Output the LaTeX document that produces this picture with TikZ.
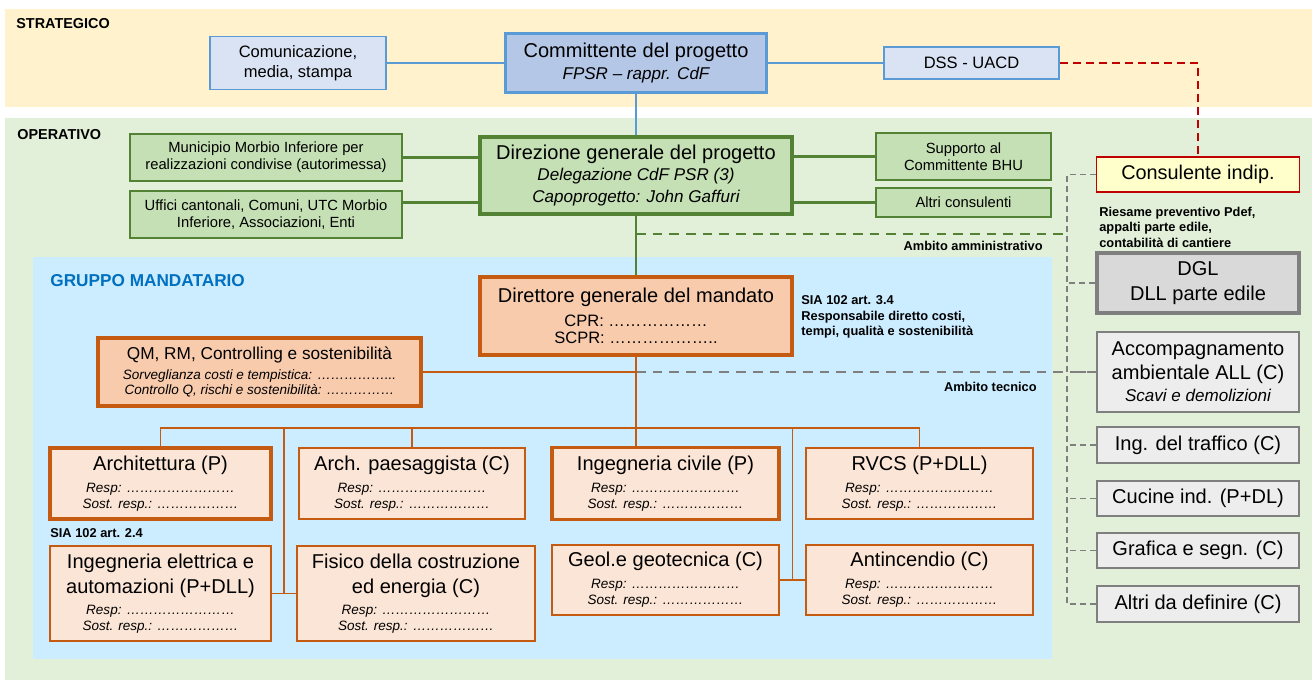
\documentclass[tikz,border=0pt]{standalone}
\usepackage{fontspec}
\setmainfont{Liberation Sans}
\usepackage{tikz}
\usetikzlibrary{calc}

\definecolor{strat}{HTML}{FFF2CC}
\definecolor{oper}{HTML}{E2F0D9}
\definecolor{grp}{HTML}{CCECFF}
\definecolor{grptxt}{HTML}{0070C0}
\definecolor{bluedraw}{HTML}{5B9BD5}
\definecolor{bluefill}{HTML}{DAE3F3}
\definecolor{cmtfill}{HTML}{B4C7E7}
\definecolor{grndraw}{HTML}{548235}
\definecolor{grnfill}{HTML}{C5E0B4}
\definecolor{orgdraw}{HTML}{C55A11}
\definecolor{orgfill}{HTML}{F8CBAD}
\definecolor{unitfill}{HTML}{FBE5D6}
\definecolor{greydraw}{HTML}{7F7F7F}
\definecolor{greyfill}{HTML}{EDEDED}
\definecolor{dglfill}{HTML}{D9D9D9}
\definecolor{consdraw}{HTML}{C00000}
\definecolor{consfill}{HTML}{FFFFCC}

\newcommand\fsz[2]{\fontsize{#1}{#2}\selectfont}
\newcommand\utitle{\fsz{11.4}{13}\upshape}

\tikzset{
  box/.style={rectangle, inner sep=0pt, align=center, line width=1.1pt},
  heavy/.style={line width=2pt},
  blubox/.style={box, draw=bluedraw, fill=bluefill, font=\fsz{9.4}{11.4}},
  grnbox/.style={box, draw=grndraw, fill=grnfill, font=\fsz{8.4}{9.7}},
  orgbox/.style={box, draw=orgdraw, fill=orgfill},
  unit/.style={box, draw=orgdraw, fill=unitfill, font=\fsz{7.7}{12.4}\itshape},
  greybox/.style={box, draw=greydraw, fill=greyfill, minimum width=4.04cm, font=\fsz{11.4}{13.7}},
  lbl/.style={inner sep=0pt, anchor=west, font=\fsz{8.2}{10}\bfseries},
  note/.style={inner sep=0pt, align=left, font=\fsz{7.3}{8.8}\bfseries},
  bline/.style={draw=bluedraw, line width=1.1pt},
  gline/.style={draw=grndraw, line width=1.2pt},
  oline/.style={draw=orgdraw, line width=1.1pt},
  gdash/.style={draw=greydraw, line width=1.1pt, dash pattern=on 3.4pt off 2.3pt},
  gdashlong/.style={draw=greydraw, line width=1.1pt, dash pattern=on 5.5pt off 4pt},
  grdash/.style={draw=grndraw, line width=1.1pt, dash pattern=on 5.5pt off 4pt},
  rdash/.style={draw=consdraw, line width=1.2pt, dash pattern=on 4.5pt off 2.9pt}
}

\begin{document}
\begin{tikzpicture}
\useasboundingbox (0,0) rectangle (26.24,13.62);
\fill [strat] (0.1,11.48) rectangle (26.24,13.44);
\fill [oper] (0.1,0.02) rectangle (26.24,11.26);
\fill [grp] (0.66,0.44) rectangle (21.04,8.48);

\node [lbl] (lstr) at (0.32,13.14) {STRATEGICO};
\node [lbl] (lop) at (0.34,10.92) {OPERATIVO};
\node [lbl, text=grptxt, font=\fsz{9.8}{11}\bfseries] (lgrp) at (1.0,8.0) {GRUPPO MANDATARIO};

\node [blubox, minimum width=3.52cm, minimum height=1.06cm] (com) at (5.96,12.36) {Comunicazione,\\ media, stampa};
\node [blubox, heavy, fill=cmtfill, minimum width=5.22cm, minimum height=1.18cm, font=\fsz{9.7}{12}\itshape] (cmt) at (12.72,12.36) {\fsz{11.4}{13}\upshape Committente del progetto\\ FPSR – rappr. CdF};
\node [blubox, minimum width=3.5cm, minimum height=0.64cm] (dss) at (19.43,12.36) {DSS - UACD};
\draw [bline] (com.east) -- (cmt.west);
\draw [bline] (cmt.east) -- (dss.west);

\node [grnbox, minimum width=5.44cm, minimum height=0.94cm] (mun) at (5.32,10.47) {Municipio Morbio Inferiore per\\ realizzazioni condivise (autorimessa)};
\node [grnbox, minimum width=5.44cm, minimum height=0.94cm] (uff) at (5.32,9.33) {Uffici cantonali, Comuni, UTC Morbio\\ Inferiore, Associazioni, Enti};
\node [grnbox, heavy, minimum width=6.24cm, minimum height=1.54cm, font=\fsz{9.7}{12.2}\itshape] (dirg) at (12.72,10.11) {\fsz{11.4}{13}\upshape Direzione generale del progetto\\ Delegazione CdF PSR (3)\\ Capoprogetto: John Gaffuri};
\node [grnbox, minimum width=3.5cm, minimum height=0.94cm] (sup) at (19.27,10.49) {Supporto al\\ Committente BHU};
\node [grnbox, minimum width=3.5cm, minimum height=0.58cm] (alt) at (19.27,9.57) {Altri consulenti};
\draw [bline] (cmt.south) -- (dirg.north);
\draw [gline] (mun.east) -- (mun.east -| dirg.west);
\draw [gline] (uff.east |- alt.west) -- (alt.west -| dirg.west);
\draw [gline] (dirg.east |- sup.west) -- (sup.west);
\draw [gline] (dirg.east |- alt.west) -- (alt.west);

\node [box, draw=consdraw, fill=consfill, minimum width=4.06cm, minimum height=0.7cm, font=\fsz{11.3}{13}] (cons) at (23.96,10.13) {Consulente indip.};
\draw [rdash] (dss.east) -| (cons.north);
\node [note, anchor=west] (nrie) at (21.98,9.08) {Riesame preventivo Pdef,\\ appalti parte edile,\\ contabilità di cantiere};
\node [greybox, heavy, fill=dglfill, minimum height=1.2cm, font=\fsz{11.4}{14.2}] (dgl) at (23.96,7.96) {DGL\\ DLL parte edile};
\node [greybox, minimum height=1.6cm] (all) at (23.96,6.18) {Accompagnamento\\ ambientale ALL (C)\\[-1.2pt] \fsz{9.7}{12}\itshape Scavi e demolizioni};
\node [greybox, minimum height=0.72cm] (ing) at (23.96,4.72) {Ing. del traffico (C)};
\node [greybox, minimum height=0.7cm] (cuc) at (23.96,3.65) {Cucine ind. (P+DL)};
\node [greybox, minimum height=0.7cm] (gra) at (23.96,2.61) {Grafica e segn. (C)};
\node [greybox, minimum height=0.72cm] (ald) at (23.96,1.54) {Altri da definire (C)};

\coordinate (trunk) at (21.34,0);
\draw [gdash] (cons.west) -- (cons.west -| trunk) -- (ald.west -| trunk) -- (ald.west);
\foreach \b in {dgl,ing,cuc,gra}
  \draw [gdash] (\b.west) -- (\b.west -| trunk);
\coordinate (adm) at ($(dirg.south)+(0,-0.36)$);
\draw [grdash] (adm) -- (adm -| trunk);
\node [note, anchor=east] (namm) at (20.86,8.7) {Ambito amministrativo};

\node [orgbox, heavy, minimum width=6.24cm, minimum height=1.56cm, font=\fsz{9.4}{13.5}] (dir) at (12.72,7.3) {\fsz{11.4}{13}Direttore generale del mandato\\ CPR: ………………\\[-3.3pt] SCPR: ………………..};
\node [note, anchor=west] (nsia3) at (16.02,7.28) {SIA 102 art. 3.4\\ Responsabile diretto costi,\\ tempi, qualità e sostenibilità};
\node [orgbox, heavy, minimum width=6.46cm, minimum height=1.36cm, font=\fsz{7.7}{11.3}\itshape] (qm) at (5.19,6.18) {\fsz{9.8}{12}\upshape QM, RM, Controlling e sostenibilità\\ Sorveglianza costi e tempistica: ……………...\\[-2.8pt] Controllo Q, rischi e sostenibilità: ……………};
\draw [gline] (dirg.south) -- (dir.north);
\draw [oline] (qm.east) -- (qm.east -| dir.south);
\draw [gdashlong] (qm.east -| dir.south) -- (all.west);
\draw [gdash] (all.west) -- (all.west -| trunk);
\node [note, anchor=east] (ntec) at (20.74,5.88) {Ambito tecnico};

\node [unit, heavy, minimum width=4.42cm, minimum height=1.42cm] (arc) at (3.21,3.95) {\utitle Architettura (P)\\ Resp: ……………………\\[-3.3pt] Sost. resp.: ………………};
\node [unit, minimum width=4.52cm, minimum height=1.42cm] (pae) at (8.24,3.95) {\utitle Arch. paesaggista (C)\\ Resp: ……………………\\[-3.3pt] Sost. resp.: ………………};
\node [unit, heavy, minimum width=4.54cm, minimum height=1.44cm] (ingc) at (13.31,3.95) {\utitle Ingegneria civile (P)\\ Resp: ……………………\\[-3.3pt] Sost. resp.: ………………};
\node [unit, minimum width=4.54cm, minimum height=1.42cm] (rvcs) at (18.39,3.95) {\utitle RVCS (P+DLL)\\ Resp: ……………………\\[-3.3pt] Sost. resp.: ………………};
\node [note, anchor=west] (nsia2) at (1.0,2.96) {SIA 102 art. 2.4};
\node [unit, minimum width=4.42cm, minimum height=1.9cm] (elt) at (3.21,1.75) {\utitle Ingegneria elettrica e\\[1.7pt] \utitle automazioni (P+DLL)\\ Resp: ……………………\\[-3.7pt] Sost. resp.: ………………};
\node [unit, minimum width=4.76cm, minimum height=1.9cm] (fis) at (8.32,1.75) {\utitle Fisico della costruzione\\[1.7pt] \utitle ed energia (C)\\ Resp: ……………………\\[-3.7pt] Sost. resp.: ………………};
\node [unit, minimum width=4.54cm, minimum height=1.4cm] (geo) at (13.31,2.02) {\utitle Geol.e geotecnica (C)\\ Resp: ……………………\\[-3.3pt] Sost. resp.: ………………};
\node [unit, minimum width=4.54cm, minimum height=1.4cm] (ant) at (18.39,2.02) {\utitle Antincendio (C)\\ Resp: ……………………\\[-3.3pt] Sost. resp.: ………………};

\coordinate (bus) at (0,5.06);
\draw [oline] (dir.south) -- (dir.south |- ingc.north);
\draw [oline] (arc.north) -- (arc.north |- bus) -- (rvcs.north |- bus) -- (rvcs.north);
\draw [oline] (pae.north) -- (pae.north |- bus);
\coordinate (lv) at ($(elt.east)!.5!(fis.west)$);
\coordinate (rv) at ($(geo.east)!.5!(ant.west)$);
\draw [oline] (elt.east) -- (fis.west) (lv) -- (lv |- bus);
\draw [oline] (geo.east) -- (ant.west) (rv) -- (rv |- bus);
\end{tikzpicture}
\end{document}
